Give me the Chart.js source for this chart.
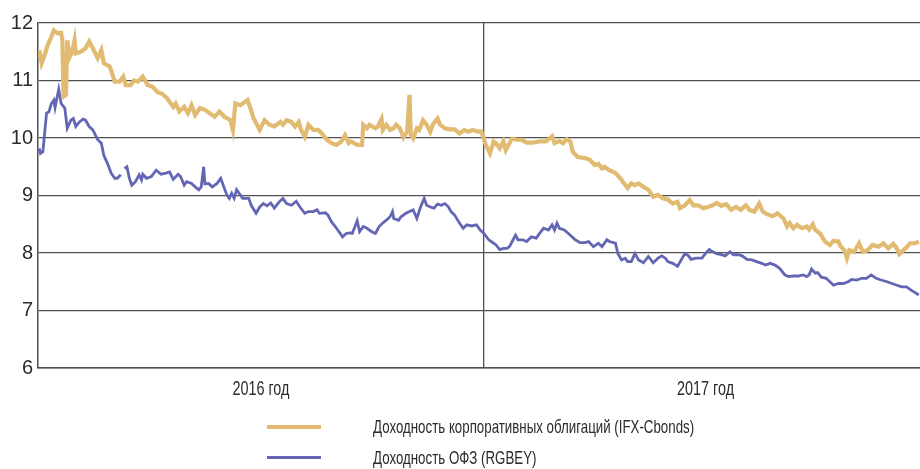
<!DOCTYPE html>
<html>
<head>
<meta charset="utf-8">
<script src="https://cdn.jsdelivr.net/npm/chart.js@4/dist/chart.umd.min.js"></script>
<style>
  html, body { margin: 0; padding: 0; background: #fff; }
  #wrap { position: relative; width: 920px; height: 469px; }
  #legend { position: absolute; left: 267px; top: 413px; font-family: 'Liberation Sans', Arial, sans-serif; font-size: 19px; color: #2b2b2b; }
  .item { position: relative; height: 31px; line-height: 28px; }
  .swatch { position: absolute; left: 0; top: 12px; width: 54px; }
  .label { position: absolute; left: 106px; top: 0; white-space: nowrap; transform: scaleX(0.7); transform-origin: 0 50%; }
</style>
</head>
<body>
<div id="wrap">
  <canvas id="myChart" width="920" height="469"></canvas>
  <div id="legend"></div>
</div>
<script>
'use strict';

// days since 1 Jan 2016
const corpDays = [1,3,5,8,11,13,16,19,20,21,23,24,26,28,30,31,35,39,42,45,49,52,54,59,63,67,70,72,76,79,82,86,90,94,98,102,106,111,113,116,120,
  123,126,129,133,137,141,145,149,153,158,160,162,166,168,172,174,177,179,182,186,190,194,199,201,204,208,211,214,216,219,222,226,230,233,237,241,245,
  249,252,255,257,262,266,267,270,272,277,279,282,283,286,289,292,294,297,300,303,305,306,308,311,313,316,319,322,324,328,330,334,338,342,346,350,353,357,361,364,
  367,371,374,376,379,382,384,389,393,397,401,406,412,417,422,424,428,431,434,437,439,443,449,453,457,460,463,465,469,474,478,480,484,487,490,493,497,501,505,509,513,517,521,525,527,531,535,538,542,546,550,554,557,561,565,569,573,577,581,584,588,592,595,598,
  603,607,612,615,617,620,623,627,631,633,636,638,642,646,650,653,657,659,662,664,666,670,674,677,681,685,690,694,698,702,705,707,712,716,720,723];
// IFX-Cbonds, %
const corpYield = [11.53,11.30,11.41,11.62,11.76,11.87,11.82,11.83,11.70,10.72,10.75,11.70,11.41,11.50,11.70,11.47,11.50,11.56,11.68,11.56,11.39,11.53,11.30,11.24,10.98,10.98,11.07,10.92,10.92,11.00,10.98,11.07,10.92,10.89,10.80,10.77,10.69,10.54,10.60,10.46,10.54,
  10.43,10.57,10.40,10.52,10.49,10.43,10.37,10.46,10.37,10.31,10.14,10.60,10.57,10.60,10.66,10.54,10.34,10.26,10.14,10.31,10.23,10.20,10.28,10.23,10.31,10.28,10.20,10.28,10.14,10.02,10.23,10.14,10.14,10.08,9.97,9.91,9.88,
  9.94,10.05,9.91,9.94,9.88,9.88,10.23,10.17,10.23,10.17,10.20,10.33,10.14,10.23,10.14,10.17,10.23,10.17,10.01,10.11,10.75,10.05,9.99,10.17,10.14,10.31,10.23,10.11,10.23,10.34,10.23,10.17,10.15,10.15,10.08,10.14,10.11,10.14,10.11,10.11,
  9.91,9.73,9.94,9.91,9.82,9.94,9.79,9.99,9.97,9.97,9.92,9.92,9.94,9.94,10.03,9.91,9.95,9.91,9.98,9.94,9.76,9.67,9.65,9.62,9.53,9.55,9.47,9.50,9.44,9.39,9.30,9.24,9.13,9.21,9.18,9.21,9.15,9.10,8.98,9.01,8.95,8.93,8.86,8.89,8.78,8.83,8.92,8.83,8.83,8.78,8.80,8.83,8.87,8.82,8.85,8.75,8.80,8.75,8.83,8.75,8.72,8.86,8.72,8.68,
  8.64,8.69,8.60,8.46,8.52,8.43,8.49,8.43,8.46,8.41,8.50,8.40,8.34,8.20,8.14,8.21,8.20,8.11,8.05,7.91,8.05,8.02,8.17,8.02,8.05,8.14,8.11,8.17,8.08,8.16,8.08,7.98,8.08,8.17,8.17,8.20];

const ofzDays = [1,2,4,7,9,11,13,14,17,19,22,24,27,29,31,34,37,39,42,45,49,52,54,57,60,63,65,68,70,71,73,75,77,80,83,85,86,89,93,97,101,105,108,111,115,117,120,
  122,126,129,132,134,136,137,140,143,147,150,152,155,157,159,161,163,166,168,173,175,179,182,185,188,191,194,198,201,204,208,212,215,219,222,226,229,231,236,238,241,244,246,
  250,253,256,258,262,264,267,270,274,277,280,283,287,289,291,292,296,298,302,305,308,311,314,317,319,322,325,328,331,334,337,339,342,346,349,352,356,360,363,366,
  370,372,376,379,382,385,387,390,392,394,398,401,405,409,412,415,419,422,424,426,428,432,437,441,445,449,452,456,460,463,467,469,474,476,479,482,484,
  487,490,493,497,501,505,509,512,515,517,521,525,528,531,534,536,540,545,549,551,554,557,561,564,568,571,575,578,582,586,590,594,
  597,601,605,609,613,616,620,624,628,631,633,635,638,640,643,647,650,653,657,661,665,668,672,676,680,684,688,692,697,701,705,709,713,717,720,723];
// RGBEY, % (null = gap in the series)
const ofzYield = [9.82,9.73,9.76,10.43,10.46,10.60,10.66,10.53,10.85,10.60,10.52,10.17,10.31,10.34,10.20,10.28,10.33,10.31,10.20,10.14,9.97,9.91,9.70,9.56,9.39,9.30,9.30,9.36,null,9.47,9.50,9.30,9.18,9.24,9.36,9.27,9.37,9.30,9.33,9.44,9.37,9.39,9.41,9.28,9.37,9.33,9.18,
  9.24,9.21,9.15,9.10,9.15,9.50,9.20,9.21,9.15,9.21,9.30,9.18,9.01,8.95,9.04,8.95,9.10,9.01,8.95,8.95,8.83,8.69,8.80,8.86,8.82,8.87,8.78,8.89,8.95,8.86,8.83,8.90,8.80,8.69,8.72,8.72,8.75,8.69,8.70,8.66,8.54,8.46,8.40,
  8.28,8.34,8.35,8.34,8.56,8.37,8.46,8.43,8.37,8.34,8.46,8.52,8.59,8.63,8.72,8.60,8.57,8.63,8.69,8.72,8.75,8.60,8.80,8.95,8.83,8.80,8.78,8.85,8.83,8.86,8.80,8.72,8.66,8.52,8.43,8.49,8.47,8.49,8.40,8.34,
  8.23,8.20,8.14,8.06,8.08,8.08,8.11,8.23,8.31,8.23,8.23,8.20,8.28,8.26,8.35,8.43,8.40,8.49,8.40,8.52,8.43,8.40,8.31,8.23,8.18,8.18,8.20,8.11,8.17,8.11,8.23,8.20,8.17,7.99,7.88,7.91,7.85,
  7.85,7.99,7.88,7.83,7.94,7.83,7.91,7.95,7.91,7.85,7.82,7.77,7.88,7.99,7.95,7.89,7.91,7.91,8.02,8.06,8.02,7.99,7.97,7.95,8.02,7.97,7.97,7.95,7.89,7.88,7.85,7.82,
  7.79,7.82,7.79,7.73,7.62,7.59,7.60,7.60,7.62,7.59,7.62,7.72,7.65,7.66,7.58,7.56,7.50,7.44,7.47,7.47,7.50,7.54,7.53,7.56,7.56,7.62,7.56,7.53,7.50,7.47,7.44,7.41,7.41,7.35,7.31,7.27];

const yearTicks = [183, 366, 548];
const yearLabels = {183: '2016 год', 548: '2017 год'};
const yTicks = [6, 7, 8, 9, 10, 11, 12];
const seriesNames = ['Доходность корпоративных облигаций (IFX-Cbonds)', 'Доходность ОФЗ (RGBEY)'];
const seriesColors = ['#e2bb72', '#6367b3'];

const FONT = "'Liberation Sans', Arial, sans-serif";
const GRID = '#505050';
const TEXT = '#2b2b2b';

const pts = (xs, ys) => xs.map((d, i) => ({x: d, y: ys[i]}));

// year captions under the x axis, drawn narrow like the condensed original
const narrowYears = {
  id: 'narrowYears',
  afterDraw: (chart) => {
    const s = chart.scales.x;
    const c = chart.ctx;
    c.save();
    c.font = '20px ' + FONT;
    c.fillStyle = TEXT;
    c.textAlign = 'center';
    c.textBaseline = 'middle';
    yearTicks.forEach(v => {
      if (!yearLabels[v]) return;
      c.save();
      c.translate(s.getPixelForValue(v), s.top + 21);
      c.scale(0.72, 1);
      c.fillText(yearLabels[v], 0, 0);
      c.restore();
    });
    c.restore();
  }
};

const ctx = document.getElementById('myChart');

const config = {
  type: 'line',
  data: {
    datasets: [
      {
        label: seriesNames[0],
        data: pts(corpDays, corpYield),
        borderColor: seriesColors[0],
        borderWidth: 4.2,
        pointRadius: 0,
        tension: 0
      },
      {
        label: seriesNames[1],
        data: pts(ofzDays, ofzYield),
        borderColor: seriesColors[1],
        borderWidth: 2.8,
        pointRadius: 0,
        tension: 0,
        spanGaps: false
      }
    ]
  },
  options: {
    responsive: false,
    animation: false,
    events: [],
    layout: { padding: { top: 23, right: 0, left: 0, bottom: 0 } },
    plugins: { legend: { display: false }, tooltip: { enabled: false } },
    scales: {
      x: {
        type: 'linear',
        min: 0,
        max: 724,
        afterBuildTicks: (s) => { s.ticks = yearTicks.map(v => ({value: v})); },
        afterFit: (s) => { s.height = 101; },
        grid: {
          color: (c) => (c.tick && c.tick.value === 366 ? GRID : 'rgba(0,0,0,0)'),
          lineWidth: 1.3,
          tickLength: 0,
          drawTicks: false
        },
        border: { color: GRID, width: 1.5 },
        ticks: { display: false }
      },
      y: {
        min: 6,
        max: 12,
        afterBuildTicks: (s) => { s.ticks = yTicks.map(v => ({value: v})); },
        afterFit: (s) => { s.width = 38; },
        grid: { color: GRID, lineWidth: 1.3, drawTicks: false, tickLength: 0 },
        border: { color: GRID, width: 1.5 },
        ticks: {
          padding: 5,
          color: TEXT,
          font: { family: FONT, size: 20 }
        }
      }
    }
  },
  plugins: [narrowYears]
};

new Chart(ctx, config);

// legend below the chart
const legend = document.getElementById('legend');
seriesNames.forEach((name, i) => {
  const item = document.createElement('div');
  item.className = 'item';
  const sw = document.createElement('div');
  sw.className = 'swatch';
  sw.style.borderTop = (i === 0 ? 4 : 3) + 'px solid ' + seriesColors[i];
  const lb = document.createElement('div');
  lb.className = 'label';
  lb.textContent = name;
  item.appendChild(sw);
  item.appendChild(lb);
  legend.appendChild(item);
});
</script>
</body>
</html>
